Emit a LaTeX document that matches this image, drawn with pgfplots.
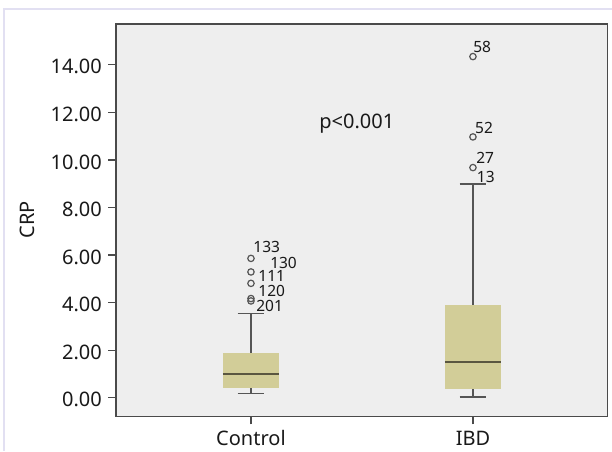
\documentclass[border=0pt]{standalone}
\usepackage{pgfplots}
\pgfplotsset{compat=1.18}
\usepgfplotslibrary{statistics}
\usepackage{fontspec}
\setmainfont{Noto Sans}
\definecolor{bgc}{HTML}{EEEEEE}
\definecolor{boxfill}{HTML}{D2CD98}
\definecolor{linec}{HTML}{555555}
\definecolor{medc}{HTML}{5A5640}
\definecolor{framec}{HTML}{4A4A4A}
\definecolor{lav}{HTML}{E2E0F2}
\begin{document}
\begin{tikzpicture}
\useasboundingbox (-116pt,-34.3pt) rectangle (496pt,416.7pt);
\fill[white] (-116pt,-34.3pt) rectangle (496pt,416.7pt);
\draw[lav, line width=2pt] (-111.5pt,-34.3pt) -- (-111.5pt,407.7pt) -- (496pt,407.7pt);
\begin{axis}[
  scale only axis,
  width=491.7pt, height=392.7pt,
  xmin=0.392, xmax=2.607,
  ymin=-0.80, ymax=15.72,
  axis background/.style={fill=bgc},
  axis line style={framec, line width=1.2pt},
  xtick={1,2}, xticklabels={Control,IBD},
  ytick={0,2,4,6,8,10,12,14},
  tick align=outside,
  major tick length=7.7pt,
  tick style={framec, line width=1.2pt},
  xtick pos=bottom, ytick pos=left,
  yticklabel style={/pgf/number format/fixed, /pgf/number format/precision=2, /pgf/number format/fixed zerofill, xshift=-3pt, yshift=-2pt},
  /pgf/number format/assume math mode=true,
  ticklabel style={font=\fontsize{20}{24}\selectfont, text=black!90},
  xticklabel style={anchor=base, yshift=-21.5pt},
  ylabel={CRP},
  ylabel style={font=\fontsize{20}{24}\selectfont, text=black!90, at={(axis description cs:-0.181,0.502)}, anchor=center},
  clip=false,
  boxplot/draw direction=y,
  boxplot/box extend=0.252,
  boxplot/whisker extend=0.12,
]
\addplot[boxplot prepared={draw position=1, lower whisker=0.17, lower quartile=0.42, median=1.01, upper quartile=1.89, upper whisker=3.55},
  draw=linec, line width=1.6pt,
  boxplot/every box/.style={draw=none, fill=boxfill},
  boxplot/every median/.style={draw=medc, line width=2.2pt},
  boxplot/every whisker/.style={draw=linec, line width=1.6pt}]
  coordinates {};
\addplot[boxplot prepared={draw position=2, lower whisker=0.03, lower quartile=0.38, median=1.51, upper quartile=3.90, upper whisker=8.99},
  draw=linec, line width=1.6pt,
  boxplot/every box/.style={draw=none, fill=boxfill},
  boxplot/every median/.style={draw=medc, line width=2.2pt},
  boxplot/every whisker/.style={draw=linec, line width=1.6pt}]
  coordinates {};
\addplot[only marks, mark=o, mark size=3.2pt, mark options={draw=linec, line width=1.2pt, fill=none}]
  coordinates {(1,5.86) (1,5.29) (1,4.81) (1,4.17) (1,4.07) (2,14.35) (2,10.97) (2,9.68)};
\begin{scope}[every node/.style={font=\fontsize{15.5}{18}\selectfont, text=black!90, anchor=west, inner sep=0pt}]
\node at (axis cs:1.010,6.35) {133};
\node at (axis cs:1.086,5.68) {130};
\node at (axis cs:1.033,5.12) {111};
\node at (axis cs:1.033,4.49) {120};
\node at (axis cs:1.023,3.86) {201};
\node at (axis cs:2.001,14.77) {58};
\node at (axis cs:2.009,11.36) {52};
\node at (axis cs:2.014,10.07) {27};
\node at (axis cs:2.017,9.27) {13};
\end{scope}
\node[font=\fontsize{20}{24}\selectfont, text=black!90, anchor=base, inner sep=0pt] at (axis cs:1.477,11.33) {p<0.001};
\end{axis}
\end{tikzpicture}
\end{document}
